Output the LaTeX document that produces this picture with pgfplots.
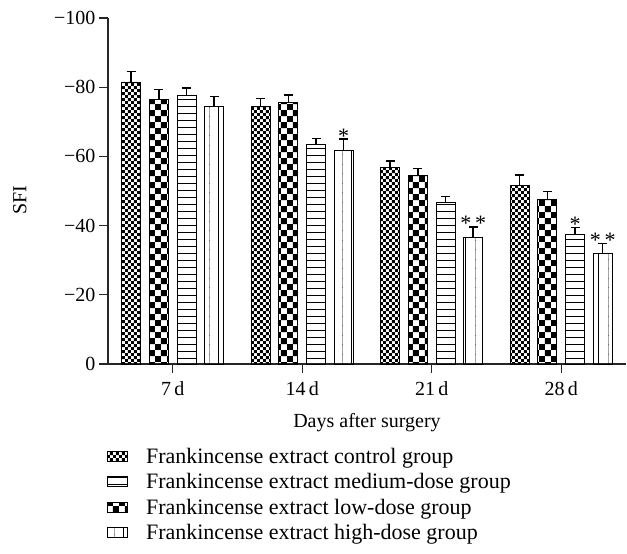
\documentclass[border=0pt]{standalone}
\usepackage{pgfplots}
\pgfplotsset{compat=1.18}
\usepackage{fontspec}
\setmainfont{Liberation Serif}
\usetikzlibrary{patterns}

% bar fills
\pgfdeclarepatternformonly{finecheck}{\pgfqpoint{0pt}{0pt}}{\pgfqpoint{6pt}{6pt}}{\pgfqpoint{6pt}{6pt}}{%
  \pgfpathrectangle{\pgfqpoint{0pt}{0pt}}{\pgfqpoint{3pt}{3pt}}%
  \pgfpathrectangle{\pgfqpoint{3pt}{3pt}}{\pgfqpoint{3pt}{3pt}}%
  \pgfusepath{fill}}
\pgfdeclarepatternformonly{coarsecheck}{\pgfqpoint{0pt}{0pt}}{\pgfqpoint{12pt}{12pt}}{\pgfqpoint{12pt}{12pt}}{%
  \pgfpathrectangle{\pgfqpoint{0pt}{0pt}}{\pgfqpoint{6pt}{6pt}}%
  \pgfpathrectangle{\pgfqpoint{6pt}{6pt}}{\pgfqpoint{6pt}{6pt}}%
  \pgfusepath{fill}}
\pgfdeclarepatternformonly{hlines}{\pgfqpoint{-0.5pt}{-0.5pt}}{\pgfqpoint{7.5pt}{0.5pt}}{\pgfqpoint{7pt}{7pt}}{%
  \pgfsetlinewidth{0.8pt}%
  \pgfpathmoveto{\pgfqpoint{-0.5pt}{0pt}}\pgfpathlineto{\pgfqpoint{7.5pt}{0pt}}%
  \pgfusepath{stroke}}
\pgfdeclarepatternformonly{vlines}{\pgfqpoint{-0.5pt}{-0.5pt}}{\pgfqpoint{0.5pt}{10pt}}{\pgfqpoint{9.5pt}{9.5pt}}{%
  \pgfsetlinewidth{0.8pt}%
  \pgfpathmoveto{\pgfqpoint{0pt}{-0.5pt}}\pgfpathlineto{\pgfqpoint{0pt}{10pt}}%
  \pgfusepath{stroke}}

\pgfplotsset{
  sfibar/.style={
    bar shift=#1, draw=black, line width=0.9pt,
    error bars/y dir=minus, error bars/y explicit,
    error bars/error bar style={line width=1.5pt, black},
    error bars/error mark options={rotate=90, mark size=4.5pt, line width=1.5pt, black}},
  stars/.style={
    forget plot, bar shift=0pt, draw=none, fill=none,
    point meta=explicit symbolic, nodes near coords,
    every node near coord/.style={anchor=base, inner sep=0pt, yshift=-4pt, xshift=#1,
      font=\fontsize{22}{24}\selectfont}},
}

\begin{document}
\begin{tikzpicture}[font=\fontsize{20}{24}\selectfont]
\begin{axis}[
  scale only axis,
  width=518pt, height=346pt,
  clip=false,
  ybar, bar width=19pt,
  xmin=0.5, xmax=4.5,
  ymin=-100, ymax=0,
  y dir=reverse,
  axis x line=bottom, axis y line=left,
  axis line style={-, line width=1.2pt, black!85},
  tick style={line width=1.2pt, black!85},
  tick align=outside,
  major tick length=9pt,
  xtick={1,2,3,4},
  xticklabels={7\,d,14\,d,21\,d,28\,d},
  xticklabel style={yshift=-5pt},
  ytick={0,-20,-40,-60,-80,-100},
  yticklabels={0,−20,−40,−60,−80,−100},
  xlabel={Days after surgery},
  ylabel={SFI},
  xlabel style={at={(axis description cs:0.5,-0.185)}, anchor=base},
  ylabel style={at={(axis description cs:-0.17,0.474)}, anchor=center},
  area legend,
  legend image code/.code={\draw[#1, line width=0.9pt] (0pt,-5pt) rectangle (20pt,5pt);},
  legend style={draw=none, fill=none, at={(axis description cs:-0.002,-0.24)}, anchor=north west,
    legend cell align=left, row sep=6.5pt, inner sep=0pt,
    font=\fontsize{22}{24}\selectfont,
    nodes={inner xsep=18pt, inner ysep=1pt}},
]
% control
\addplot[sfibar=-41.5pt, pattern=finecheck] coordinates {
  (1,-81.5) -= (0,3.0) (2,-74.4) -= (0,2.3) (3,-56.7) -= (0,2.0) (4,-51.7) -= (0,2.9)};
% medium dose
\addplot[sfibar=13.8pt, pattern=hlines] coordinates {
  (1,-77.7) -= (0,2.0) (2,-63.4) -= (0,1.7) (3,-46.8) -= (0,1.6) (4,-37.5) -= (0,2.0)};
% low dose
\addplot[sfibar=-13.8pt, pattern=coarsecheck] coordinates {
  (1,-76.5) -= (0,2.8) (2,-75.6) -= (0,2.1) (3,-54.6) -= (0,1.9) (4,-47.6) -= (0,2.3)};
% high dose
\addplot[sfibar=41.5pt, pattern=vlines] coordinates {
  (1,-74.5) -= (0,2.8) (2,-61.8) -= (0,3.2) (3,-36.5) -= (0,3.1) (4,-32.0) -= (0,2.8)};
\legend{Frankincense extract control group,
  Frankincense extract medium-dose group,
  Frankincense extract low-dose group,
  Frankincense extract high-dose group}

% significance marks above the error bars
\addplot[stars=13.8pt] coordinates {(4,-39.5) [*]};
\addplot[stars=41.5pt] coordinates {(2,-65.0) [*] (3,-39.6) [*\,*] (4,-34.8) [*\,*]};

\path (axis description cs:-0.2085,-0.549) rectangle (axis description cs:1.002,1.052);
\end{axis}
\end{tikzpicture}
\end{document}
